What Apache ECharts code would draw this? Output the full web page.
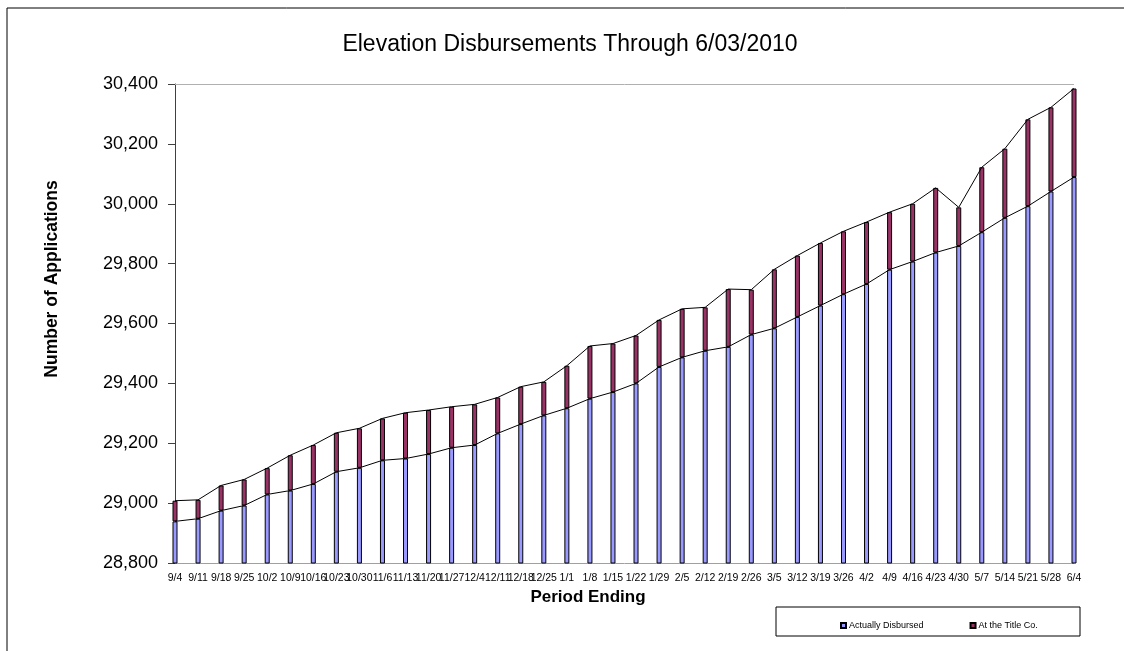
<!DOCTYPE html>
<html>
<head>
<meta charset="utf-8">
<script src="https://cdn.jsdelivr.net/npm/echarts@6/dist/echarts.min.js"></script>
<style>
html,body{margin:0;padding:0;background:#fff;}
#chart{width:1124px;height:651px;}
</style>
</head>
<body>
<div id="chart"></div>
<script>
const categories = ['9/4','9/11','9/18','9/25','10/2','10/9','10/16','10/23','10/30','11/6','11/13','11/20','11/27','12/4','12/11','12/18','12/25','1/1','1/8','1/15','1/22','1/29','2/5','2/12','2/19','2/26','3/5','3/12','3/19','3/26','4/2','4/9','4/16','4/23','4/30','5/7','5/14','5/21','5/28','6/4'];
const actuallyDisbursed = [28939,28948,28975,28992,29029,29042,29064,29105,29118,29143,29149,29164,29185,29194,29233,29264,29293,29317,29349,29371,29400,29455,29487,29509,29522,29563,29584,29622,29660,29698,29732,29780,29807,29837,29859,29905,29953,29992,30041,30089];
const atTitleCo = [69,63,84,87,88,118,130,130,132,140,153,147,137,136,120,125,112,142,176,162,160,157,162,145,193,150,197,205,209,210,207,192,193,216,129,217,231,290,281,296];
const yTicks = {min: 28800, max: 30400, interval: 200};

const FONT = 'Liberation Sans, Arial, sans-serif';
const chart = echarts.init(document.getElementById('chart'), null, {renderer: 'canvas'});
chart.setOption({
  backgroundColor: '#fff',
  animation: false,
  title: {
    text: 'Elevation Disbursements Through 6/03/2010',
    left: 565, top: 28, textAlign: 'center',
    textStyle: {fontFamily: FONT, fontSize: 23, fontWeight: 'normal', color: '#000'}
  },
  legend: {
    data: ['Actually Disbursed', 'At the Title Co.'],
    left: 835, top: 616,
    itemWidth: 5, itemHeight: 5, itemGap: 46,
    icon: 'rect',
    textStyle: {fontFamily: FONT, fontSize: 9, color: '#000', padding: [0,0,0,-2]}
  },
  grid: {left: 175, right: 50, top: 84, bottom: 88, containLabel: false},
  xAxis: {
    type: 'category',
    data: categories,
    boundaryGap: false,
    axisLine: {lineStyle: {color: '#a0a0a0', width: 1}},
    axisTick: {show: false},
    axisLabel: {interval: 0, fontFamily: FONT, fontSize: 10.5, color: '#000', margin: 10}
  },
  yAxis: {
    type: 'value',
    min: yTicks.min, max: yTicks.max, interval: yTicks.interval,
    axisLine: {show: true, lineStyle: {color: '#404040', width: 1}},
    axisTick: {show: true, length: 7, lineStyle: {color: '#404040'}},
    splitLine: {show: false},
    axisLabel: {fontFamily: FONT, fontSize: 18, color: '#000', margin: 17,
      formatter: v => v.toLocaleString('en-US')}
  },
  graphic: [
    {type: 'rect', shape: {x: 7, y: 8, width: 2000, height: 2000}, style: {fill: 'none', stroke: '#000', lineWidth: 1}, silent: true},
    {type: 'rect', shape: {x: 776, y: 607, width: 304, height: 29}, style: {fill: 'none', stroke: '#000', lineWidth: 1}, silent: true},
    {type: 'text', x: 588, y: 597, style: {text: 'Period Ending', font: 'bold 17px ' + FONT, fill: '#000', textAlign: 'center', textVerticalAlign: 'middle'}},
    {type: 'text', x: 52, y: 279, rotation: Math.PI / 2, style: {text: 'Number of Applications', font: 'bold 17.5px ' + FONT, fill: '#000', textAlign: 'center', textVerticalAlign: 'middle'}}
  ],
  series: [
    {
      name: 'Actually Disbursed', type: 'bar', stack: 'bars', barWidth: 5,
      data: actuallyDisbursed,
      itemStyle: {color: '#9999FF', borderColor: '#000', borderWidth: 1},
      markLine: {silent: true, symbol: 'none', label: {show: false},
        lineStyle: {color: '#b0b0b0', type: 'solid', width: 1},
        data: [{yAxis: yTicks.max}]}
    },
    {
      name: 'At the Title Co.', type: 'bar', stack: 'bars', barWidth: 5,
      data: atTitleCo,
      itemStyle: {color: '#993366', borderColor: '#000', borderWidth: 1}
    },
    {
      name: 'disbursedLine', type: 'line', stack: 'lines', data: actuallyDisbursed,
      symbol: 'none', lineStyle: {color: '#000', width: 1}, z: 5
    },
    {
      name: 'totalLine', type: 'line', stack: 'lines', data: atTitleCo,
      symbol: 'none', lineStyle: {color: '#000', width: 1}, z: 5
    }
  ]
});
</script>
</body>
</html>
